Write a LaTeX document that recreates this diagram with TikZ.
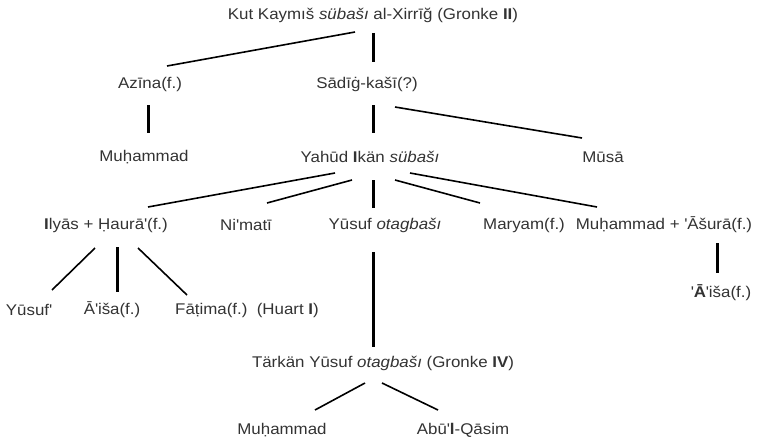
\documentclass[tikz,border=0pt]{standalone}
\usepackage{fontspec}
\setmainfont{Liberation Sans}[FakeStretch=1.09]
\usetikzlibrary{calc}
\newcommand{\q}{\textquotesingle}
\newcommand{\B}[1]{\textbf{#1}}
\tikzset{
  person/.style={font=\fontsize{15.5}{17}\selectfont, text=black!80, inner sep=0pt, anchor=center},
  lnthin/.style={line width=1.6pt, black},
  lnthick/.style={line width=3pt, black}
}
\begin{document}
\begin{tikzpicture}[x=1pt,y=-1pt]
\useasboundingbox (0,0) rectangle (757,444);
\node[person] (top) at (373,15) {Kut Kaymıš \textit{sübašı} al-Xirrīğ (Gronke \B{II})};
\node[person] (azina) at (150,84) {Azīna(f.)};
\node[person] (sadig) at (367,84) {Sādīġ-kašī(?)};
\node[person] (muh1) at (144,157) {Muḥammad};
\node[person] (yahud) at (370,157) {Yahūd \B{I}kän \textit{sübašı}};
\node[person] (musa) at (603,157) {Mūsā};
\node[person] (ilyas) at (106,225) {\B{I}lyās\ + Ḥaurā\q(f.)};
\node[person] (nimati) at (246,225) {Ni\q matī};
\node[person] (yusuf) at (385,225) {Yūsuf \textit{otagbašı}};
\node[person] (maryam) at (524,225) {Maryam(f.)};
\node[person] (muh2) at (664,225) {Muḥammad + \q Āšurā(f.)};
\node[person] (yusuf2) at (29,310) {Yūsuf\q};
\node[person] (aisha) at (112,310) {Ā\q iša(f.)};
\node[person] (fatima) at (247,310) {Fāṭima(f.)\ \ (Huart \B{I})};
\node[person] (aisha2) at (721,293) {\q\B{Ā}\q iša(f.)};
\node[person] (tarkan) at (383,363) {Tärkän Yūsuf \textit{otagbašı} (Gronke \B{IV})};
\node[person] (muh3) at (282,430) {Muḥammad};
\node[person] (abul) at (463,430) {Abū\q\B{l}-Qāsim};

\draw[lnthin] ($(top)+(-18,17)$) -- ($(azina)+(17,-18)$);
\draw[lnthick] ($(top)+(0,18)$) -- ($(sadig)+(6,-22)$);
\draw[lnthick] ($(azina)+(-2,21)$) -- ($(muh1)+(4,-24)$);
\draw[lnthick] ($(sadig)+(6,21)$) -- ($(yahud)+(3,-24)$);
\draw[lnthin] ($(sadig)+(28,23)$) -- ($(musa)+(-21,-19)$);
\draw[lnthin] ($(yahud)+(-35,16)$) -- ($(ilyas)+(42,-18)$);
\draw[lnthin] ($(yahud)+(-18,23)$) -- ($(nimati)+(21,-22)$);
\draw[lnthick] ($(yahud)+(3,23)$) -- ($(yusuf)+(-12,-17)$);
\draw[lnthin] ($(yahud)+(25,23)$) -- ($(maryam)+(-44,-22)$);
\draw[lnthin] ($(yahud)+(40,16)$) -- ($(muh2)+(-67,-18)$);
\draw[lnthin] ($(ilyas)+(-11,23)$) -- ($(yusuf2)+(23,-20)$);
\draw[lnthick] ($(ilyas)+(11,22)$) -- ($(aisha)+(5,-18)$);
\draw[lnthin] ($(ilyas)+(32,23)$) -- ($(fatima)+(-60,-15)$);
\draw[lnthick] ($(yusuf)+(-12,27)$) -- ($(tarkan)+(-10,-16)$);
\draw[lnthick] ($(muh2)+(53,18)$) -- ($(aisha2)+(-4,-20)$);
\draw[lnthin] ($(tarkan)+(-18,20)$) -- ($(muh3)+(33,-20)$);
\draw[lnthin] ($(tarkan)+(-1,20)$) -- ($(abul)+(-25,-20)$);
\end{tikzpicture}
\end{document}
